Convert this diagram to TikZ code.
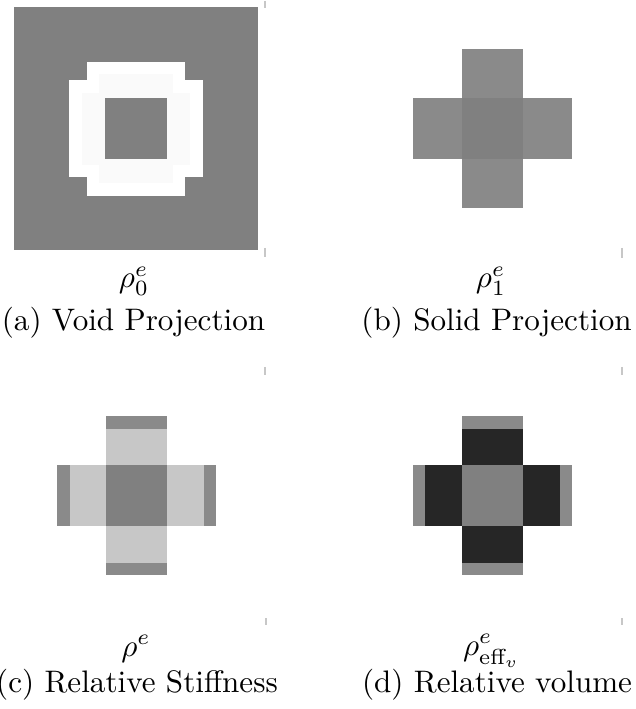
\documentclass[tikz,border=0pt]{standalone}
\usepackage{amsmath}
\usetikzlibrary{calc}

\begin{document}
\begin{tikzpicture}[x=0.3215pt, y=-0.3215pt, line cap=butt, line join=miter]
  \tikzset{
    cell/.style={draw=none},
    mid/.style={fill=black!50},
    endcap/.style={fill=black!46},
    ticker/.style={line width=0.5pt, draw=black!22},
    sym/.style={anchor=base, inner sep=0pt, font=\fontsize{10pt}{12pt}\selectfont},
    caption/.style={anchor=base, inner sep=0pt, font=\fontsize{10pt}{12pt}\selectfont}
  }

  \useasboundingbox (0,0) rectangle (635,709);

  % Panel centres
  \coordinate (A_pos) at (136, 128.5);
  \coordinate (B_pos) at (492.5, 128.5);
  \coordinate (C_pos) at (136.5, 495.5);
  \coordinate (D_pos) at (492.5, 495.5);

  % (a) Void projection: grey field with a white ring
  \fill[cell, mid] (14,7) rectangle (258,250);
  \fill[cell, white] (87,62) rectangle (185,196);
  \fill[cell, white] (69,80) rectangle (203,177);
  \fill[cell, white!98!black] (99,74) rectangle (173,98);
  \fill[cell, white!98!black] (99,159) rectangle (173,183);
  \fill[cell, white!98!black] (82,93) rectangle (105,165);
  \fill[cell, white!98!black] (167,93) rectangle (190,165);
  \fill[cell, mid] (105,98) rectangle (167,159);

  % (b) Solid projection: grey cross
  \fill[cell, endcap] ($(B_pos)+(-30.5,-79.5)$) rectangle ($(B_pos)+(30.5,79.5)$);
  \fill[cell, endcap] ($(B_pos)+(-79.5,-30.5)$) rectangle ($(B_pos)+(79.5,30.5)$);
  \fill[cell, mid] ($(B_pos)+(-30.5,-30.5)$) rectangle ($(B_pos)+(30.5,30.5)$);

  % (c) Relative stiffness: light arms, darker end caps
  \fill[cell, endcap] ($(C_pos)+(-30.5,-79.5)$) rectangle ($(C_pos)+(30.5,79.5)$);
  \fill[cell, endcap] ($(C_pos)+(-79.5,-30.5)$) rectangle ($(C_pos)+(79.5,30.5)$);
  \fill[cell, black!22] ($(C_pos)+(-30.5,-67)$) rectangle ($(C_pos)+(30.5,67)$);
  \fill[cell, black!22] ($(C_pos)+(-67,-30.5)$) rectangle ($(C_pos)+(67,30.5)$);
  \fill[cell, mid] ($(C_pos)+(-30.5,-30.5)$) rectangle ($(C_pos)+(30.5,30.5)$);

  % (d) Relative volume: dark arms, grey end caps
  \fill[cell, endcap] ($(D_pos)+(-30.5,-79)$) rectangle ($(D_pos)+(30.5,79)$);
  \fill[cell, endcap] ($(D_pos)+(-79.5,-30.5)$) rectangle ($(D_pos)+(79.5,30.5)$);
  \fill[cell, black!85] ($(D_pos)+(-30.5,-67)$) rectangle ($(D_pos)+(30.5,67)$);
  \fill[cell, black!85] ($(D_pos)+(-67.5,-30.5)$) rectangle ($(D_pos)+(67.5,30.5)$);
  \fill[cell, mid] ($(D_pos)+(-30.5,-30.5)$) rectangle ($(D_pos)+(30.5,30.5)$);

  % Axis ticks left over at the panel edges
  \coordinate (tA1) at (265,1);   \coordinate (tA2) at (265,8);
  \coordinate (tA3) at (265,248); \coordinate (tA4) at (265,257);
  \coordinate (tB3) at (622,248); \coordinate (tB4) at (622,258);
  \coordinate (tC1) at (265,367); \coordinate (tC2) at (265,375);
  \coordinate (tC3) at (266,618); \coordinate (tC4) at (266,625);
  \coordinate (tD1) at (622,367); \coordinate (tD2) at (622,375);
  \coordinate (tD3) at (622,618); \coordinate (tD4) at (622,625);
  \draw[ticker] (tA1) -- (tA2);
  \draw[ticker] (tA3) -- (tA4);
  \draw[ticker] (tB3) -- (tB4);
  \draw[ticker] (tC1) -- (tC2);
  \draw[ticker] (tC3) -- (tC4);
  \draw[ticker] (tD1) -- (tD2);
  \draw[ticker] (tD3) -- (tD4);

  % Symbols and captions
  \node[sym] (symA) at (134,288) {$\rho^e_0$};
  \node[caption] (capA) at (133.5,331) {(a) Void Projection};
  \node[sym] (symB) at (491,288) {$\rho^e_1$};
  \node[caption] (capB) at (496.5,331) {(b) Solid Projection};
  \node[sym] (symC) at (136,656) {$\rho^e$};
  \node[caption] (capC) at (137,692) {(c) Relative Stiffness};
  \node[sym] (symD) at (491.5,655) {$\rho^e_{\text{eff}_v}$};
  \node[caption] (capD) at (497,692) {(d) Relative volume};

\end{tikzpicture}
\end{document}
